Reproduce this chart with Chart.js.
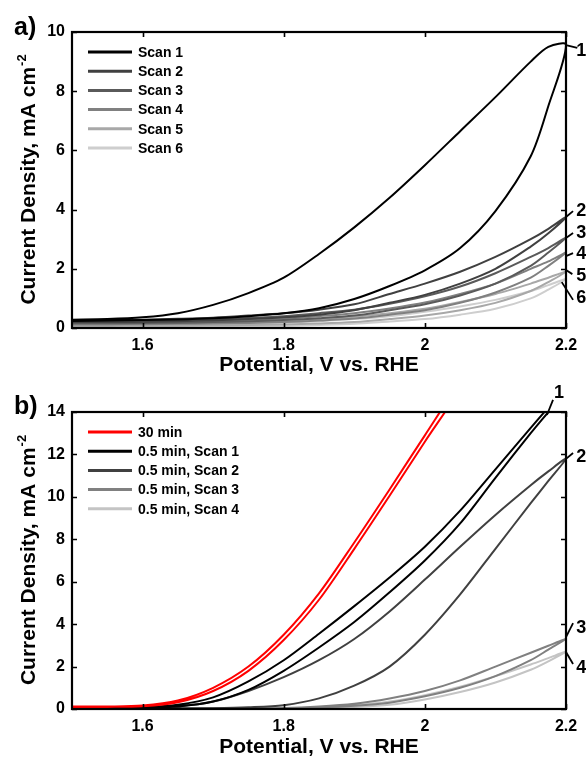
<!DOCTYPE html>
<html><head><meta charset="utf-8">
<script src="https://cdn.jsdelivr.net/npm/chart.js@4.4.1/dist/chart.umd.min.js"></script>
<style>
html,body{margin:0;padding:0;background:#fff;width:586px;height:758px;overflow:hidden}
.wrap{position:absolute;left:0;width:586px}
#wa{top:0;height:376px}
#wb{top:376px;height:382px}
.pl{position:absolute;left:14px;font:bold 25px "Liberation Sans",Arial,sans-serif;color:#000;line-height:1}
</style></head><body>
<div class="wrap" id="wa"><canvas id="ca" width="586" height="376" style="width:586px;height:376px"></canvas></div>
<div class="wrap" id="wb"><canvas id="cb" width="586" height="382" style="width:586px;height:382px"></canvas></div>
<div class="pl" style="top:14px">a)</div>
<div class="pl" style="top:393px">b)</div>
<script>
// ---------- DATA ----------
const potentialGrid = [1.5,1.55,1.6,1.65,1.7,1.75,1.8,1.85,1.9,1.95,2.0,2.05,2.1,2.15,2.175,2.2];
const potentialRed  = [1.5,1.55,1.6,1.65,1.7,1.75,1.8,1.85,1.9,1.95,2.0,2.05];

const xTickValues = [1.6,1.8,2.0,2.2];
const xTickLabels = ['1.6','1.8','2','2.2'];
const yTicksA = [0,2,4,6,8,10];
const yTicksB = [0,2,4,6,8,10,12,14];

// Panel a: six consecutive scans (forward = lower branch, reverse = upper branch)
const labelsA = ['Scan 1','Scan 2','Scan 3','Scan 4','Scan 5','Scan 6'];
const colorsA = ['#000000','#404040','#5a5a5a','#808080','#a8a8a8','#cecece'];
const aScan1Fwd = [0.24,0.25,0.27,0.29,0.33,0.40,0.50,0.67,0.98,1.42,1.95,2.70,3.95,5.80,7.50,9.56];
const aScan1Rev = [0.28,0.30,0.36,0.50,0.78,1.18,1.70,2.50,3.40,4.40,5.50,6.65,7.80,9.00,9.50,9.56];
const aScan2Fwd = [0.20,0.20,0.21,0.23,0.26,0.30,0.36,0.45,0.60,0.85,1.12,1.50,2.00,2.75,3.20,3.75];
const aScan2Rev = [0.25,0.26,0.28,0.31,0.35,0.42,0.50,0.62,0.80,1.15,1.50,1.90,2.40,3.00,3.35,3.75];
const aScan3Fwd = [0.16,0.16,0.17,0.18,0.20,0.23,0.27,0.33,0.42,0.60,0.80,1.10,1.50,2.10,2.55,3.05];
const aScan3Rev = [0.22,0.22,0.24,0.26,0.29,0.34,0.40,0.50,0.62,0.82,1.07,1.40,1.85,2.40,2.70,3.05];
const aScan4Fwd = [0.12,0.12,0.13,0.14,0.15,0.17,0.20,0.25,0.32,0.45,0.60,0.85,1.20,1.70,2.10,2.55];
const aScan4Rev = [0.18,0.18,0.19,0.21,0.23,0.27,0.32,0.40,0.50,0.66,0.86,1.15,1.50,2.00,2.25,2.55];
const aScan5Fwd = [0.07,0.07,0.08,0.08,0.09,0.10,0.12,0.15,0.20,0.30,0.42,0.60,0.85,1.25,1.55,1.90];
const aScan5Rev = [0.13,0.13,0.14,0.15,0.17,0.20,0.24,0.30,0.38,0.50,0.65,0.88,1.15,1.50,1.70,1.90];
const aScan6Fwd = [0.03,0.03,0.03,0.04,0.05,0.06,0.07,0.10,0.14,0.22,0.30,0.45,0.65,1.00,1.30,1.65];
const aScan6Rev = [0.10,0.10,0.10,0.11,0.12,0.14,0.18,0.23,0.30,0.40,0.55,0.73,0.95,1.25,1.45,1.65];

// Panel b
const labelsB = ['30 min','0.5 min, Scan 1','0.5 min, Scan 2','0.5 min, Scan 3','0.5 min, Scan 4'];
const colorsB = ['#ff0000','#000000','#404040','#808080','#c4c4c4'];
const bRedFwd   = [0.10,0.10,0.13,0.32,0.85,1.80,3.25,5.15,7.55,10.05,12.60,15.10];
const bRedRev   = [0.12,0.12,0.16,0.40,1.00,2.00,3.50,5.45,7.85,10.35,12.90,15.40];
const bScan1Fwd = [0.05,0.05,0.06,0.12,0.35,0.90,1.80,2.90,4.10,5.50,7.00,8.75,10.90,13.00,14.00,15.00];
const bScan1Rev = [0.05,0.05,0.08,0.20,0.55,1.30,2.30,3.55,4.85,6.20,7.65,9.35,11.30,13.25,14.20,15.00];
const bScan2Fwd = [0.02,0.02,0.02,0.03,0.04,0.08,0.18,0.50,1.10,2.00,3.50,5.40,7.55,9.70,10.75,11.80];
const bScan2Rev = [0.03,0.03,0.05,0.12,0.35,0.85,1.50,2.30,3.30,4.60,6.10,7.65,9.15,10.55,11.20,11.80];
const bScan3Fwd = [0.01,0.01,0.01,0.02,0.02,0.03,0.04,0.07,0.15,0.30,0.60,1.00,1.55,2.30,2.80,3.30];
const bScan3Rev = [0.02,0.02,0.02,0.02,0.03,0.04,0.05,0.12,0.25,0.50,0.85,1.35,2.00,2.65,2.98,3.30];
const bScan4Fwd = [0.01,0.01,0.01,0.01,0.01,0.02,0.03,0.05,0.10,0.20,0.45,0.80,1.25,1.85,2.25,2.70];
const bScan4Rev = [0.01,0.01,0.01,0.01,0.02,0.03,0.04,0.08,0.18,0.35,0.65,1.05,1.55,2.10,2.40,2.70];

// Curve-number callouts: [text, curve x, curve y, leader x, leader y, text x, text y] (data units)
const calloutsA = [
  ['1',2.2,9.56,2.216,9.46,2.2215,9.39],
  ['2',2.2,3.75,2.210,3.95,2.2215,3.99],
  ['3',2.2,3.04,2.210,3.21,2.2215,3.24],
  ['4',2.2,2.43,2.210,2.53,2.2215,2.53],
  ['5',2.2,1.96,2.209,1.82,2.2215,1.79],
  ['6',2.194,1.55,2.210,0.95,2.2215,1.05]
];
const calloutsB = [
  ['1',2.173,13.86,2.1816,14.57,2.190,14.95],
  ['2',2.2,11.79,2.210,12.07,2.2215,11.93],
  ['3',2.2,3.39,2.210,4.05,2.2215,3.87],
  ['4',2.2,2.69,2.210,2.12,2.2215,1.98]
];

// ---------- BUILD ----------
function loop(grid, fwd, rev){
  const pts = grid.map((x,i)=>({x:x,y:fwd[i]}));
  for (let i=grid.length-1;i>=0;i--){
    const p = {x:grid[i], y:rev[i]};
    const last = pts[pts.length-1];
    if (last.x===p.x && last.y===p.y) continue;
    pts.push(p);
  }
  return pts;
}
const FONT = '"Liberation Sans", Arial, sans-serif';

const decoPlugin = {
  id:'deco',
  afterDatasetsDraw(chart, args, o){
    const {ctx, chartArea:{left,right,top,bottom}, scales:{x,y}} = chart;
    ctx.save();
    ctx.strokeStyle='#000'; ctx.lineWidth=1.6; ctx.lineCap='butt';
    ctx.beginPath();
    x.ticks.forEach(t=>{const px=Math.round(x.getPixelForValue(t.value))+0.5;
      ctx.moveTo(px,bottom); ctx.lineTo(px,bottom-5); ctx.moveTo(px,top); ctx.lineTo(px,top+5);});
    y.ticks.forEach(t=>{const py=Math.round(y.getPixelForValue(t.value))+0.5;
      ctx.moveTo(left,py); ctx.lineTo(left+5,py); ctx.moveTo(right,py); ctx.lineTo(right-5,py);});
    ctx.stroke();
    ctx.lineWidth=2.2;
    ctx.strokeRect(left,top,right-left,bottom-top);
    // legend
    ctx.font='bold 14px '+FONT; ctx.textBaseline='middle'; ctx.textAlign='left';
    chart.data.datasets.forEach((ds,i)=>{
      const yy = top + o.legendTop + i*19.2;
      ctx.strokeStyle=ds.borderColor; ctx.lineWidth=3;
      ctx.beginPath(); ctx.moveTo(left+16,yy); ctx.lineTo(left+60,yy); ctx.stroke();
      ctx.fillStyle='#000'; ctx.fillText(ds.label, left+66, yy+1);
    });
    // callouts
    ctx.strokeStyle='#000'; ctx.lineWidth=1.8; ctx.fillStyle='#000';
    ctx.font='bold 18px '+FONT; ctx.textAlign='center'; ctx.textBaseline='middle';
    o.callouts.forEach(c=>{
      ctx.beginPath();
      ctx.moveTo(x.getPixelForValue(c[1]), y.getPixelForValue(c[2]));
      ctx.lineTo(x.getPixelForValue(c[3]), y.getPixelForValue(c[4]));
      ctx.stroke();
      ctx.fillText(c[0], x.getPixelForValue(c[5]), y.getPixelForValue(c[6])+1);
    });
    // y-axis title with superscript
    ctx.translate(35,(top+bottom)/2);
    ctx.rotate(-Math.PI/2);
    const main='Current Density, mA cm', sup='-2';
    ctx.textAlign='left'; ctx.textBaseline='alphabetic';
    ctx.font='bold 21px '+FONT; const w1=ctx.measureText(main).width;
    ctx.font='bold 13px '+FONT; const w2=ctx.measureText(sup).width;
    const sx=-(w1+w2)/2;
    ctx.font='bold 21px '+FONT; ctx.fillText(main,sx,0);
    ctx.font='bold 13px '+FONT; ctx.fillText(sup,sx+w1+1,-9);
    ctx.restore();
  }
};

function makeChart(id, datasets, yMax, yTicks, padTop, xHeight, callouts){
  return new Chart(document.getElementById(id), {
    type:'line',
    data:{datasets:datasets},
    options:{
      responsive:false, animation:false,
      layout:{padding:{top:padTop,right:20,left:0,bottom:0}},
      plugins:{legend:{display:false}, tooltip:{enabled:false},
        deco:{legendTop:20, callouts:callouts}},
      elements:{point:{radius:0}, line:{tension:0.3, borderWidth:2, capBezierPoints:true}},
      scales:{
        x:{type:'linear', min:1.5, max:2.2,
          grid:{display:false, drawTicks:false}, border:{display:false},
          afterBuildTicks:s=>{s.ticks = xTickValues.map(v=>({value:v}));},
          afterFit:s=>{s.height = xHeight;},
          ticks:{color:'#000', padding:8, font:{family:FONT, size:16, weight:'bold'},
            callback:(v,i)=>xTickLabels[i]},
          title:{display:true, text:'Potential, V vs. RHE', color:'#000',
            font:{family:FONT, size:21, weight:'bold', lineHeight:1}, padding:0}
        },
        y:{type:'linear', min:0, max:yMax,
          grid:{display:false, drawTicks:false}, border:{display:false},
          afterBuildTicks:s=>{s.ticks = yTicks.map(v=>({value:v}));},
          afterFit:s=>{s.width = 72;},
          ticks:{color:'#000', padding:7, font:{family:FONT, size:16, weight:'bold'},
            callback:v=>String(v)}
        }
      }
    },
    plugins:[decoPlugin]
  });
}

const fwdA=[aScan1Fwd,aScan2Fwd,aScan3Fwd,aScan4Fwd,aScan5Fwd,aScan6Fwd];
const revA=[aScan1Rev,aScan2Rev,aScan3Rev,aScan4Rev,aScan5Rev,aScan6Rev];
const dsA = labelsA.map((l,i)=>({label:l, borderColor:colorsA[i], backgroundColor:colorsA[i],
  data:loop(potentialGrid,fwdA[i],revA[i]), clip:0, fill:false}));

const gridsB=[potentialRed,potentialGrid,potentialGrid,potentialGrid,potentialGrid];
const fwdB=[bRedFwd,bScan1Fwd,bScan2Fwd,bScan3Fwd,bScan4Fwd];
const revB=[bRedRev,bScan1Rev,bScan2Rev,bScan3Rev,bScan4Rev];
const dsB = labelsB.map((l,i)=>({label:l, borderColor:colorsB[i], backgroundColor:colorsB[i],
  data:loop(gridsB[i],fwdB[i],revB[i]), clip:0, fill:false}));

makeChart('ca', dsA, 10, yTicksA, 32, 48, calloutsA);
makeChart('cb', dsB, 14, yTicksB, 36, 49, calloutsB);
</script>
</body></html>
